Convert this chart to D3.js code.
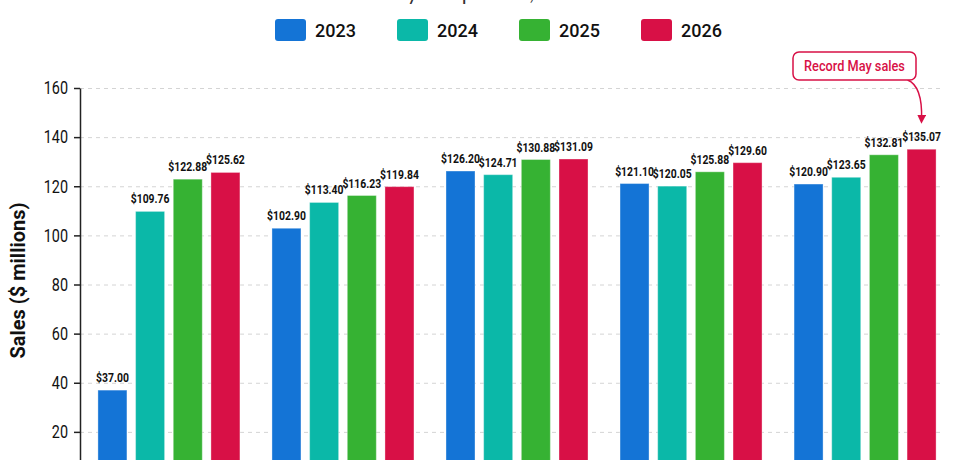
<!DOCTYPE html>
<html>
<head>
<meta charset="utf-8">
<script src="https://cdn.jsdelivr.net/npm/d3@7"></script>
<style>
  body { margin: 0; background: #fff; }
  .grid line { stroke: #d4d4d4; stroke-dasharray: 4,4; }
  .grid path { display: none; }
  .yaxis text { font-family: Roboto, sans-serif; font-size: 18px; fill: #111; }
  .yaxis path, .yaxis line { stroke: #222; stroke-width: 1.5; }
</style>
</head>
<body>
<div id="chart"></div>
<script>
const months = ["Jan", "Feb", "Mar", "Apr", "May"];
const years = ["2023", "2024", "2025", "2026"];
const sales2023 = [37.00, 102.90, 126.20, 121.10, 120.90];
const sales2024 = [109.76, 113.40, 124.71, 120.05, 123.65];
const sales2025 = [122.88, 116.23, 130.88, 125.88, 132.81];
const sales2026 = [125.62, 119.84, 131.09, 129.60, 135.07];
const yTicks = [0, 20, 40, 60, 80, 100, 120, 140, 160];
const colors = ["#1474d6", "#0bb8a8", "#36b233", "#d81046"];

var width = 960, height = 460;
var margin = {top: 88, left: 80};
var plotH = 393;
var gridRight = 943;
var narrow = 0.8; // horizontal squeeze to mimic a condensed face

var series = [sales2023, sales2024, sales2025, sales2026];
var data = months.map((m, i) => ({
    month: m,
    values: years.map((y, j) => ({year: y, value: series[j][i]}))
}));

var svg = d3.select("#chart").append("svg")
    .attr("width", width)
    .attr("height", height);

var x0 = d3.scaleBand()
    .domain(months)
    .range([margin.left, 954])
    .paddingInner(0.184)
    .paddingOuter(0.103);

var x1 = d3.scaleBand()
    .domain(years)
    .range([0, x0.bandwidth()])
    .paddingInner(0.23)
    .paddingOuter(0);

var y = d3.scaleLinear()
    .domain([0, 160])
    .range([margin.top + plotH, margin.top]);

// subtitle, mostly out of frame
svg.append("text")
    .attr("x", 500)
    .attr("y", 0)
    .attr("text-anchor", "middle")
    .style("font-family", "Lato, sans-serif")
    .style("font-size", "21px")
    .style("fill", "#333")
    .text("Monthly comparison, 2023 – 2026");

// legend
var legend = svg.append("g")
    .selectAll("g")
    .data(years)
    .enter()
    .append("g")
    .attr("transform", (d, i) => "translate(" + (275 + i * 122) + ",19)");
legend.append("rect")
    .attr("width", 31)
    .attr("height", 22)
    .attr("rx", 3)
    .attr("fill", (d, i) => colors[i]);
legend.append("text")
    .attr("x", 40)
    .attr("y", 18)
    .style("font-family", "Roboto, sans-serif")
    .style("font-weight", "500")
    .style("font-size", "18px")
    .style("fill", "#111")
    .text(d => d);

// grid
svg.append("g")
    .attr("class", "grid")
    .attr("transform", "translate(" + margin.left + ",0)")
    .call(d3.axisLeft(y).tickValues(yTicks.slice(1)).tickSize(-(gridRight - margin.left)).tickFormat(""));

// bars
var groups = svg.append("g")
    .selectAll("g")
    .data(data)
    .enter()
    .append("g")
    .attr("transform", d => "translate(" + x0(d.month) + ",0)");

groups.selectAll("rect")
    .data(d => d.values)
    .enter()
    .append("rect")
    .attr("x", d => x1(d.year))
    .attr("y", d => y(d.value))
    .attr("width", x1.bandwidth())
    .attr("height", d => y(0) - y(d.value))
    .attr("fill", (d, i) => colors[i])
    .attr("stroke", "rgba(255,255,255,0.35)")
    .attr("stroke-width", 1);

groups.selectAll(".val")
    .data(d => d.values)
    .enter()
    .append("text")
    .attr("class", "val")
    .attr("transform", d => "translate(" + (x1(d.year) + x1.bandwidth() / 2) + "," + (y(d.value) - 8) + ") scale(" + narrow + ",1)")
    .attr("text-anchor", "middle")
    .style("font-family", "Roboto, sans-serif")
    .style("font-weight", "bold")
    .style("font-size", "13px")
    .style("fill", "#111")
    .text(d => "$" + d.value.toFixed(2));

// y axis
var yAxis = svg.append("g")
    .attr("class", "yaxis")
    .attr("transform", "translate(" + margin.left + ",0)")
    .call(d3.axisLeft(y).tickValues(yTicks).tickSize(6).tickPadding(5).tickSizeOuter(0));
yAxis.selectAll(".tick text")
    .attr("x", -12 / narrow)
    .attr("transform", "scale(" + narrow + ",1)");

svg.append("text")
    .attr("transform", "rotate(-90)")
    .attr("x", -(margin.top + plotH / 2) + 4)
    .attr("y", 25)
    .attr("text-anchor", "middle")
    .style("font-family", "Roboto, sans-serif")
    .style("font-weight", "bold")
    .style("font-size", "20px")
    .style("fill", "#111")
    .text("Sales ($ millions)");

// annotation
var last = data[4].values[3];
var ax = x0("May") + x1("2026") + x1.bandwidth() / 2;
var ay = y(last.value) - 27;
var note = svg.append("g");
svg.append("defs").append("marker")
    .attr("id", "arrow")
    .attr("viewBox", "0 0 10 10")
    .attr("refX", 5).attr("refY", 5)
    .attr("markerWidth", 6).attr("markerHeight", 6)
    .attr("orient", "auto")
    .append("path")
    .attr("d", "M0,0 L10,5 L0,10 z")
    .attr("fill", "#d81046");
note.append("path")
    .attr("d", "M" + (ax - 14) + ",80 Q" + (ax + 1) + ",86 " + ax + "," + (ay - 3))
    .attr("fill", "none")
    .attr("stroke", "#d81046")
    .attr("stroke-width", 1.5)
    .attr("marker-end", "url(#arrow)");
note.append("rect")
    .attr("x", 793).attr("y", 52)
    .attr("width", 123).attr("height", 28)
    .attr("rx", 6)
    .attr("fill", "#fff")
    .attr("stroke", "#d81046")
    .attr("stroke-width", 1.5);
note.append("text")
    .attr("transform", "translate(854.5,71) scale(0.85,1)")
    .attr("text-anchor", "middle")
    .style("font-family", "Roboto, sans-serif")
    .style("font-weight", "500")
    .style("font-size", "15px")
    .style("fill", "#d81046")
    .text("Record May sales");
</script>
</body>
</html>
